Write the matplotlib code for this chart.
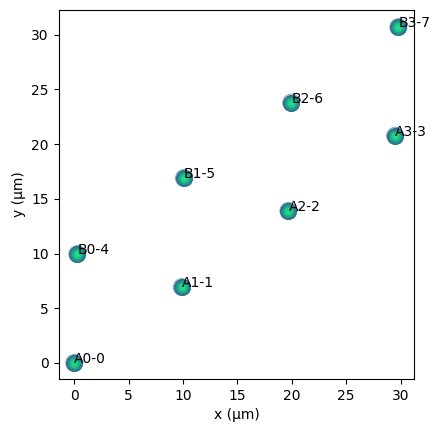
import numpy as np
import matplotlib
matplotlib.use('Agg')
import matplotlib.pyplot as plt
from matplotlib.colors import LinearSegmentedColormap

### Atom positions (um) and labels.
labels = ['A0-0', 'A1-1', 'A2-2', 'A3-3', 'B0-4', 'B1-5', 'B2-6', 'B3-7']
x_pos = [0.0, 9.88, 19.69, 29.5, 0.28, 10.09, 19.94, 29.8]
y_pos = [0.0, 6.93, 13.9, 20.77, 9.95, 16.9, 23.8, 30.7]

fig = plt.figure(figsize=(4.4, 4.33), dpi=100)
ax = fig.add_axes([0.133, 0.125, 0.809, 0.852])

### Fake a shaded sphere: stack shrinking discs from dark teal to bright green.
shade = LinearSegmentedColormap.from_list('sphere', ['#36668c', '#22918a', '#1fdc88'])
sizes = np.linspace(150, 8, 16)
for k, s in enumerate(sizes):
    t = k / (len(sizes) - 1)
    ax.scatter(x_pos, y_pos, s=s, color=shade(t), linewidths=0, zorder=2 + k * 0.01)
ax.scatter(x_pos, y_pos, s=150, facecolors='none', edgecolors='#6c97bd', linewidths=0.6, zorder=2)

for lab, xx, yy in zip(labels, x_pos, y_pos):
    ax.text(xx, yy, lab, fontsize=10, zorder=5)

ax.set_xlim(-1.45, 31.28)
ax.set_ylim(-1.46, 32.27)
ax.set_xticks([0, 5, 10, 15, 20, 25, 30])
ax.set_yticks([0, 5, 10, 15, 20, 25, 30])
ax.set_xlabel('x (µm)')
ax.set_ylabel('y (µm)')

plt.savefig('out.png', dpi=100)
